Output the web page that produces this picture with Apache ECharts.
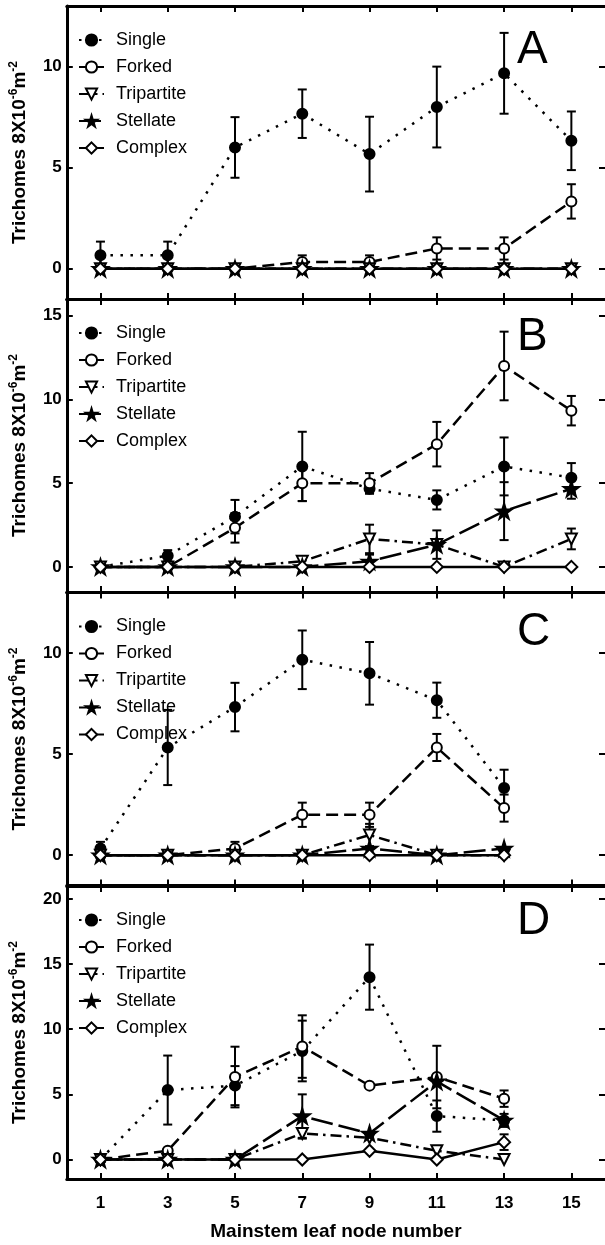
<!DOCTYPE html>
<html>
<head>
<meta charset="utf-8">
<script src="https://cdn.jsdelivr.net/npm/echarts@6/dist/echarts.min.js"></script>
<style>
  body { margin: 0; background: #fff; }
  #chart { width: 605px; height: 1245px; }
</style>
</head>
<body>
<div id="chart"></div>
<script>
// leaf node positions (x)
var nodes = [1, 3, 5, 7, 9, 11, 13, 15];
var names = ['Single', 'Forked', 'Tripartite', 'Stellate', 'Complex'];
var panelLabels = ['A', 'B', 'C', 'D'];

// panel A
var aSingle = [0.67, 0.67, 6.0, 7.67, 5.67, 8.0, 9.67, 6.33];
var aSingleErr = [0.67, 0.67, 1.5, 1.2, 1.85, 2.0, 2.0, 1.45];
var aForked = [0, 0, 0, 0.33, 0.33, 1.0, 1.0, 3.33];
var aForkedErr = [0, 0, 0, 0.33, 0.33, 0.55, 0.55, 0.85];
var aTri = [0, 0, 0, 0, 0, 0, 0, 0];
var aStel = [0, 0, 0, 0, 0, 0, 0, 0];
var aComp = [0, 0, 0, 0, 0, 0, 0, 0];

// panel B
var bSingle = [0, 0.67, 3.0, 6.0, 4.67, 4.0, 6.0, 5.33];
var bSingleErr = [0, 0.33, 1.0, 2.07, 0.3, 0.57, 1.73, 0.87];
var bForked = [0, 0, 2.33, 5.0, 5.0, 7.33, 12.0, 9.33];
var bForkedErr = [0, 0, 0.88, 1.07, 0.6, 1.33, 2.05, 0.88];
var bTri = [0, 0, 0, 0.33, 1.67, 1.33, 0, 1.67];
var bTriErr = [0, 0, 0, 0, 0.85, 0, 0, 0.62];
var bStel = [0, 0, 0, 0, 0.33, 1.33, 3.33, 4.67];
var bStelErr = [0, 0, 0, 0, 0.4, 0.85, 1.73, 0.6];
var bComp = [0, 0, 0, 0, 0, 0, 0, 0];

// panel C (no node 15)
var cSingle = [0.33, 5.33, 7.33, 9.67, 9.0, 7.67, 3.33, null];
var cSingleErr = [0.33, 1.86, 1.2, 1.45, 1.55, 0.87, 0.9, 0];
var cForked = [0, 0, 0.33, 2.0, 2.0, 5.33, 2.33, null];
var cForkedErr = [0, 0, 0.33, 0.6, 0.6, 0.67, 0.67, 0];
var cTri = [0, 0, 0, 0, 1.0, 0, 0, null];
var cTriErr = [0, 0, 0, 0, 0.55, 0, 0, 0];
var cStel = [0, 0, 0, 0, 0.33, 0, 0.33, null];
var cComp = [0, 0, 0, 0, 0, 0, 0, null];

// panel D (no node 15)
var dSingle = [0, 5.33, 5.67, 8.33, 14.0, 3.33, 3.0, null];
var dSingleErr = [0, 2.65, 1.5, 2.33, 2.5, 1.2, 0, 0];
var dForked = [0, 0.67, 6.33, 8.67, 5.67, 6.33, 4.67, null];
var dForkedErr = [0, 0, 2.33, 2.4, 0, 2.4, 0.63, 0];
var dTri = [0, 0, 0, 2.0, 1.67, 0.67, 0, null];
var dTriErr = [0, 0, 0, 0.4, 0, 0, 0, 0];
var dStel = [0, 0, 0, 3.33, 2.0, 6.0, 3.0, null];
var dStelErr = [0, 0, 0, 1.67, 0, 0, 0.5, 0];
var dComp = [0, 0, 0, 0, 0.67, 0, 1.33, null];
var dCompErr = [0, 0, 0, 0, 0, 0, 0.6, 0];

// y axis ranges + tick labels
var yMax = [13, 16, 13, 21];
var yTicks = [[0, 5, 10], [0, 5, 10, 15], [0, 5, 10], [0, 5, 10, 15, 20]];
var zero = [0, 0, 0, 0, 0, 0, 0, 0];

var panels = [
	{ vals: [aSingle, aForked, aTri, aStel, aComp], errs: [aSingleErr, aForkedErr, zero, zero, zero] },
	{ vals: [bSingle, bForked, bTri, bStel, bComp], errs: [bSingleErr, bForkedErr, bTriErr, bStelErr, zero] },
	{ vals: [cSingle, cForked, cTri, cStel, cComp], errs: [cSingleErr, cForkedErr, cTriErr, zero, zero] },
	{ vals: [dSingle, dForked, dTri, dStel, dComp], errs: [dSingleErr, dForkedErr, dTriErr, dStelErr, dCompErr] }
];

var font = "'Liberation Sans', Arial, sans-serif";
var star = 'path://M50,0 L61,35 L98,35 L68,57 L79,91 L50,70 L21,91 L32,57 L2,35 L39,35 Z';

// marker + line look per trichome type
var looks = [
	{ symbol: 'circle', size: 10, fill: '#000', dash: [2.5, 7.5] },
	{ symbol: 'circle', size: 10, fill: '#fff', dash: [12, 6] },
	{ symbol: 'triangle', size: 11, fill: '#fff', dash: [11, 5, 2.5, 5], rotate: 180 },
	{ symbol: star, size: 15, fill: '#000', dash: [22, 6] },
	{ symbol: 'diamond', size: 12, fill: '#fff', dash: 'solid' }
];

var gridTop = [6, 299, 592.5, 886];
var gridH = 293;
var xTicks = [1, 3, 5, 7, 9, 11, 13, 15];

var grids = [], xAxes = [], yAxes = [], series = [], legends = [], graphics = [];

for (var p = 0; p < 4; p++) {
	// right edge of the frame sits just past the canvas, like the reference
	grids.push({ left: 61.5, top: gridTop[p], width: 546.2, height: gridH });

	var axLine = { show: true, onZero: false, lineStyle: { color: '#000', width: 3 } };
	var tick = { show: true, inside: true, length: 6, lineStyle: { color: '#000', width: 2 } };

	// bottom + top x axes
	xAxes.push({
		type: 'value', gridIndex: p, position: 'bottom', min: 0, max: 16,
		axisLine: axLine, splitLine: { show: false },
		axisTick: Object.assign({ customValues: xTicks }, tick),
		axisLabel: {
			show: p == 3, customValues: xTicks, margin: 16,
			color: '#000', fontSize: 17, fontWeight: 'bold', fontFamily: font
		},
		name: p == 3 ? 'Mainstem leaf node number' : '',
		nameLocation: 'middle', nameGap: 43,
		nameTextStyle: { color: '#000', fontSize: 19, fontWeight: 'bold', fontFamily: font }
	});
	xAxes.push({
		type: 'value', gridIndex: p, position: 'top', min: 0, max: 16,
		axisLine: axLine, splitLine: { show: false },
		axisTick: Object.assign({ customValues: xTicks }, tick),
		axisLabel: { show: false }
	});

	// left + right y axes
	yAxes.push({
		type: 'value', gridIndex: p, position: 'left', min: -1.5, max: yMax[p],
		axisLine: axLine, splitLine: { show: false },
		axisTick: Object.assign({ customValues: yTicks[p] }, tick),
		axisLabel: {
			customValues: yTicks[p], margin: 5,
			color: '#000', fontSize: 17, fontWeight: 'bold', fontFamily: font
		},
		name: 'Trichomes 8X10{s|-6}m{s|-2}',
		nameLocation: 'middle', nameGap: 20, nameRotate: 90,
		nameTextStyle: {
			color: '#000', fontSize: 19, fontWeight: 'bold', fontFamily: font, lineHeight: 24,
			rich: { s: { fontSize: 12, fontWeight: 'bold', fontFamily: font, verticalAlign: 'top', color: '#000' } }
		}
	});
	yAxes.push({
		type: 'value', gridIndex: p, position: 'right', min: -1.5, max: yMax[p],
		axisLine: { show: false, onZero: false }, splitLine: { show: false },
		axisTick: Object.assign({ customValues: yTicks[p] }, tick),
		axisLabel: { show: false }
	});

	// error bars (behind the markers)
	var errRows = [];
	for (var t = 0; t < 5; t++) {
		for (var i = 0; i < nodes.length; i++) {
			var v = panels[p].vals[t][i], e = panels[p].errs[t][i];
			if (v != null && e > 0) errRows.push([nodes[i], v, e]);
		}
	}
	series.push({
		type: 'custom', name: 'err' + p, xAxisIndex: p * 2, yAxisIndex: p * 2, z: 1,
		data: errRows,
		renderItem: function(params, api) {
			var x = api.value(0), m = api.value(1), e = api.value(2);
			var hi = api.coord([x, m + e]), lo = api.coord([x, m - e]);
			var st = { stroke: '#000', lineWidth: 2 };
			return {
				type: 'group',
				children: [
					{ type: 'line', shape: { x1: hi[0], y1: hi[1], x2: lo[0], y2: lo[1] }, style: st },
					{ type: 'line', shape: { x1: hi[0] - 4.5, y1: hi[1], x2: hi[0] + 4.5, y2: hi[1] }, style: st },
					{ type: 'line', shape: { x1: lo[0] - 4.5, y1: lo[1], x2: lo[0] + 4.5, y2: lo[1] }, style: st }
				]
			};
		}
	});

	// the 5 trichome lines
	for (var t = 0; t < 5; t++) {
		var pts = [];
		for (var i = 0; i < nodes.length; i++) {
			if (panels[p].vals[t][i] != null) pts.push([nodes[i], panels[p].vals[t][i]]);
		}
		var lk = looks[t];
		series.push({
			type: 'line', name: names[t], xAxisIndex: p * 2, yAxisIndex: p * 2, z: 3 + t,
			data: pts,
			symbol: lk.symbol, symbolSize: lk.size, symbolRotate: lk.rotate || 0,
			showAllSymbol: true, animation: false,
			itemStyle: { color: lk.fill, borderColor: '#000', borderWidth: 2 },
			lineStyle: { color: '#000', width: 2.5, type: lk.dash }
		});
	}

	legends.push({
		orient: 'vertical', left: 73, top: gridTop[p] + 20,
		data: names, selectedMode: false,
		itemWidth: 25, itemHeight: 14, itemGap: 9,
		textStyle: { color: '#000', fontSize: 18, lineHeight: 18, fontFamily: font, padding: [0, 0, 0, 7] }
	});
}

// panel letters
var letterY = [50, 337, 632, 921];
for (var p = 0; p < 4; p++) {
	graphics.push({
		type: 'text', left: 517, top: letterY[p] - 23,
		style: { text: panelLabels[p], fill: '#000', font: '46px ' + font }
	});
}

var myChart = echarts.init(document.getElementById('chart'));
myChart.setOption({
	animation: false,
	backgroundColor: '#fff',
	grid: grids,
	xAxis: xAxes,
	yAxis: yAxes,
	legend: legends,
	graphic: graphics,
	series: series
});
</script>
</body>
</html>
